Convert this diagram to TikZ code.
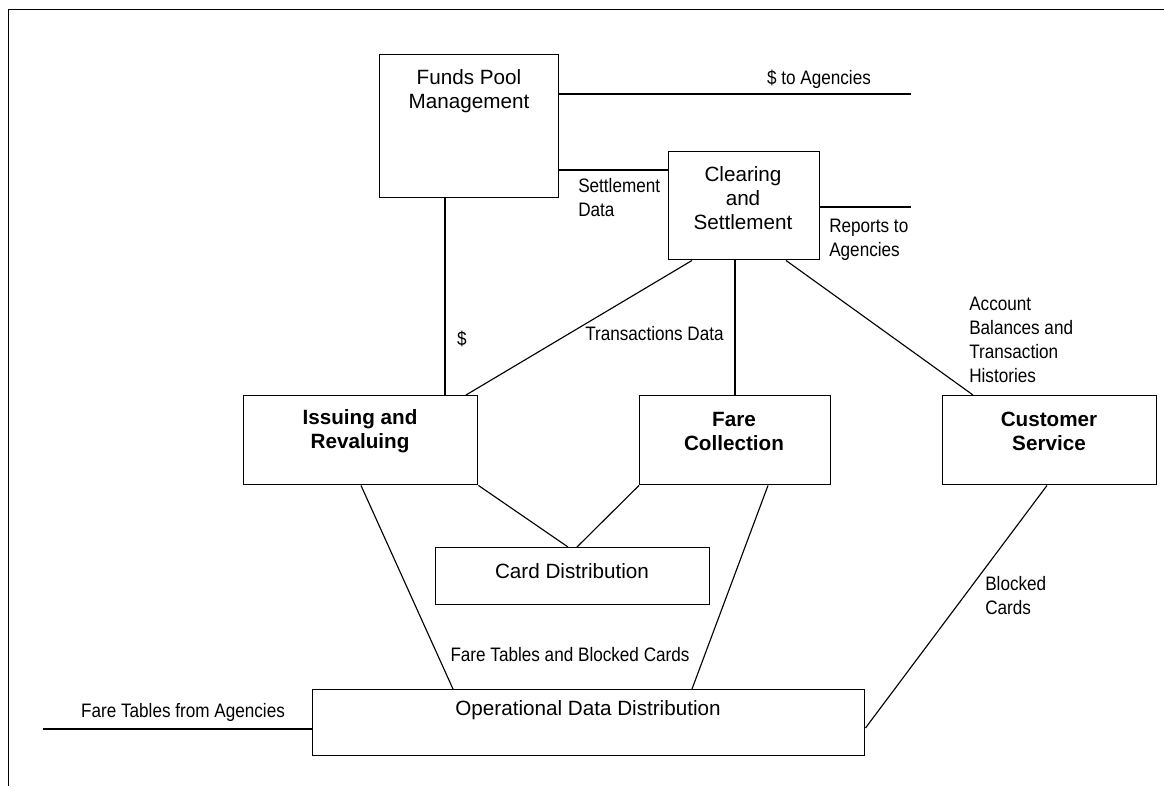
\documentclass[tikz,border=0pt]{standalone}
\usepackage{fontspec}
\setmainfont{Liberation Sans}
\newfontfamily\narrowfont[FakeStretch=0.88]{Liberation Sans}
\usetikzlibrary{calc}

\tikzset{
  procbox/.style={draw, line width=1.1pt, rectangle, inner sep=0pt, anchor=north west},
  boxtext/.style={align=center, inner sep=0pt, font=\fontsize{15.5}{18}\selectfont},
  boldtext/.style={boxtext, font=\fontsize{15.5}{18}\selectfont\bfseries},
  flowlabel/.style={inner sep=0pt, font=\narrowfont\fontsize{14.6}{18}\selectfont},
  leftlabel/.style={flowlabel, align=left, anchor=west},
  flow/.style={line width=0.85pt},
  frameline/.style={line width=1.3pt}
}

\begin{document}
\begin{tikzpicture}[x=0.75pt, y=-0.75pt]
  \useasboundingbox (0,0) rectangle (1164,786);

  % page frame (top and left edges)
  \draw[frameline] (1164,9.5) -- (8.5,9.5) -- (8.5,786);

  % process boxes
  \node[procbox, minimum width=134.25pt, minimum height=107.25pt] (funds) at (379,54) {};
  \node[procbox, minimum width=113.25pt, minimum height=81pt] (clearing) at (668,151) {};
  \node[procbox, minimum width=175.5pt, minimum height=66.75pt] (issuing) at (243,395) {};
  \node[procbox, minimum width=143.25pt, minimum height=66.75pt] (fare) at (639,395) {};
  \node[procbox, minimum width=160.5pt, minimum height=66.75pt] (customer) at (942,395) {};
  \node[procbox, minimum width=205.5pt, minimum height=42.75pt] (card) at (435,547) {};
  \node[procbox, minimum width=414pt, minimum height=49.5pt] (ops) at (312,689) {};

  % box captions
  \node[boxtext] (fundsT) at (469,91) {Funds Pool\\Management};
  \node[boxtext] (clearingT) at (743,198) {Clearing\\and\\Settlement};
  \node[boldtext] (issuingT) at (360,431) {Issuing and\\Revaluing};
  \node[boldtext] (fareT) at (734,431) {Fare\\Collection};
  \node[boldtext] (customerT) at (1049,431) {Customer\\Service};
  \node[boxtext] (cardT) at (572,571) {Card Distribution};
  \node[boxtext] (opsT) at (588,710) {Operational Data Distribution};

  % free ends of external flows
  \coordinate (toAgencies) at (911,94);
  \coordinate (reportsEnd) at (911,207);
  \coordinate (fromAgencies) at (43,729);

  % flows
  \draw[flow] ($(funds.north east)+(0,40)$) -- (toAgencies);
  \draw[flow] ($(funds.north east)+(0,116)$) coordinate (sd) -- (sd -| clearing.west);
  \draw[flow] ($(clearing.north east)+(0,56)$) -- (reportsEnd);
  \draw[flow] ($(funds.south west)+(66,0)$) coordinate (dl) -- (dl |- issuing.north);
  \draw[flow] ($(clearing.south west)+(24,0)$) -- ($(issuing.north west)+(223,0)$);
  \draw[flow] ($(clearing.south west)+(67,0)$) coordinate (fc) -- (fc |- fare.north);
  \draw[flow] ($(clearing.south west)+(118,0)$) -- ($(customer.north west)+(31,0)$);
  \draw[flow] (issuing.south east) -- ($(card.north west)+(133,0)$);
  \draw[flow] (fare.south west) -- ($(card.north west)+(142,0)$);
  \draw[flow] ($(issuing.south west)+(118,0)$) -- ($(ops.north west)+(141,0)$);
  \draw[flow] ($(fare.south west)+(129,0)$) -- ($(ops.north west)+(380,0)$);
  \draw[flow] ($(customer.south west)+(105,0)$) -- ($(ops.north east)+(0,39)$);
  \draw[flow] (fromAgencies) -- (fromAgencies -| ops.west);

  % flow labels
  \node[flowlabel] (lblDollarAg) at (819,79) {\$ to Agencies};
  \node[leftlabel] (lblSettle) at (578,198) {Settlement\\Data};
  \node[leftlabel] (lblReports) at (829,240) {Reports to\\Agencies};
  \node[flowlabel] (lblDollar) at (462,339) {\$};
  \node[leftlabel] (lblTrans) at (585,334) {Transactions Data};
  \node[leftlabel] (lblAccount) at (969,340) {Account\\Balances and\\Transaction\\Histories};
  \node[leftlabel] (lblBlocked) at (985,596) {Blocked\\Cards};
  \node[flowlabel] (lblFareBlocked) at (570,655) {Fare Tables and Blocked Cards};
  \node[flowlabel] (lblFareFrom) at (183,712) {Fare Tables from Agencies};
\end{tikzpicture}
\end{document}
